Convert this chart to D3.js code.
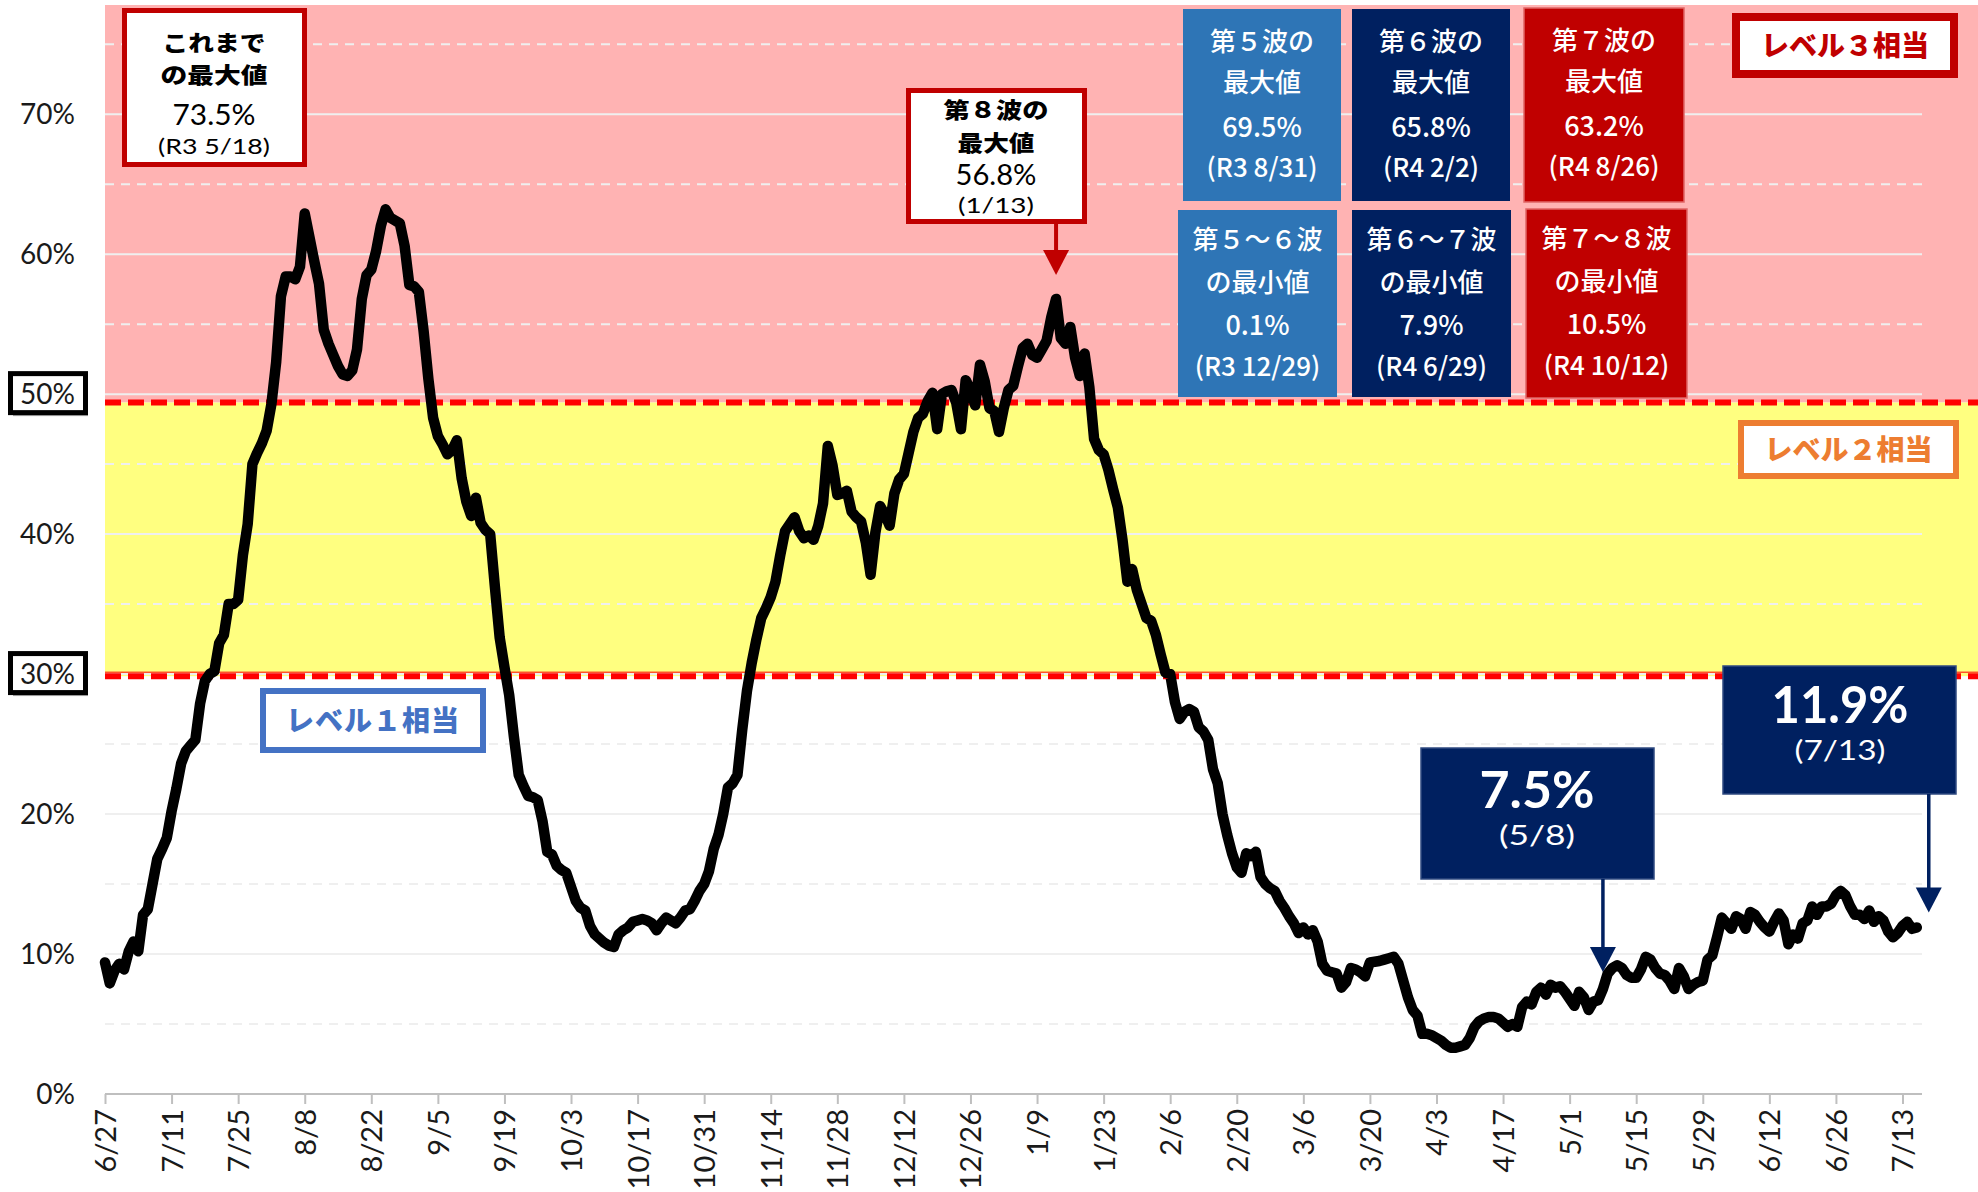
<!DOCTYPE html>
<html>
<head>
<meta charset="utf-8">
<script src="https://cdn.jsdelivr.net/npm/d3@7/dist/d3.min.js"></script>
<style>
  body { margin: 0; background: #fff; }
  svg { display: block; }
</style>
</head>
<body>
<svg id="chart"></svg>
<script>
// daily rate (%) starting 2022-06-27
const startDate = '2022-06-27'
const rates = [
  9.4, 7.9, 8.8, 9.3, 8.9, 10.2, 10.9, 10.2, 12.8, 13.2, 15.0, 16.8, 17.5, 18.3,
  20.2, 21.8, 23.6, 24.5, 24.9, 25.3, 27.9, 29.5, 30.0, 30.2, 32.2, 32.8, 35.0, 35.0,
  35.3, 38.5, 40.7, 45.0, 45.8, 46.5, 47.4, 49.3, 52.3, 57.0, 58.4, 58.4, 58.2, 59.1,
  62.9, 61.2, 59.5, 57.9, 54.6, 53.6, 52.8, 52.0, 51.4, 51.3, 51.7, 53.2, 56.8, 58.5,
  58.9, 60.2, 62.0, 63.2, 62.6, 62.4, 62.2, 60.6, 57.8, 57.7, 57.3, 54.5, 51.1, 48.3,
  47.0, 46.4, 45.7, 46.0, 46.7, 44.0, 42.3, 41.3, 42.6, 40.8, 40.3, 40.0, 36.2, 32.6,
  30.5, 28.5, 25.5, 22.8, 22.0, 21.3, 21.2, 21.0, 19.5, 17.3, 17.1, 16.3, 16.0, 15.8,
  14.8, 13.8, 13.3, 13.1, 12.0, 11.4, 11.1, 10.8, 10.6, 10.5, 11.4, 11.7, 11.9, 12.3,
  12.4, 12.5, 12.4, 12.2, 11.7, 12.2, 12.6, 12.4, 12.2, 12.6, 13.1, 13.2, 13.8, 14.5,
  15.0, 15.9, 17.5, 18.5, 20.0, 21.9, 22.2, 22.8, 26.0, 28.8, 30.8, 32.5, 34.0, 34.7,
  35.5, 36.6, 38.5, 40.2, 40.7, 41.2, 40.2, 39.7, 39.9, 39.6, 40.6, 42.2, 46.3, 44.9,
  42.8, 42.9, 43.1, 41.6, 41.2, 40.9, 39.4, 37.1, 40.1, 42.0, 41.4, 40.6, 42.9, 43.9,
  44.3, 45.8, 47.3, 48.3, 48.6, 49.5, 50.1, 47.5, 50.0, 50.2, 50.3, 49.4, 47.5, 51.0,
  50.3, 49.2, 52.1, 50.9, 49.0, 48.8, 47.3, 49.0, 50.3, 50.6, 52.0, 53.3, 53.6, 52.8,
  52.6, 53.2, 53.8, 55.5, 56.8, 54.0, 53.6, 54.8, 52.6, 51.3, 52.9, 50.5, 46.8, 46.0,
  45.7, 44.6, 43.2, 41.9, 39.5, 36.6, 37.5, 36.0, 35.0, 34.0, 33.8, 32.8, 31.4, 30.1,
  30.0, 28.0, 26.8, 27.3, 27.5, 27.3, 26.2, 25.9, 25.3, 23.2, 22.2, 20.0, 18.5, 17.2,
  16.2, 15.8, 17.2, 17.0, 17.3, 15.5, 15.0, 14.7, 14.5, 13.8, 13.3, 12.7, 12.2, 11.5,
  11.9, 11.4, 11.7, 10.9, 9.3, 8.8, 8.7, 8.6, 7.6, 8.0, 9.0, 8.9, 8.7, 8.4,
  9.4, 9.45, 9.5, 9.6, 9.7, 9.8, 9.3, 8.1, 6.9, 6.0, 5.6, 4.3, 4.3, 4.2,
  4.0, 3.8, 3.5, 3.3, 3.3, 3.4, 3.5, 4.0, 4.8, 5.2, 5.4, 5.5, 5.5, 5.4,
  5.1, 4.8, 5.0, 4.8, 6.2, 6.6, 6.4, 7.3, 7.6, 7.1, 7.8, 7.6, 7.7, 7.3,
  6.8, 6.3, 7.3, 6.9, 6.0, 6.6, 6.7, 7.5, 8.6, 9.0, 9.2, 9.0, 8.5, 8.3,
  8.3, 8.9, 9.8, 9.6, 9.0, 8.6, 8.5, 8.1, 7.5, 9.0, 8.4, 7.5, 7.8, 8.0,
  8.1, 9.6, 9.9, 11.2, 12.6, 12.2, 11.8, 12.7, 12.5, 11.8, 13.0, 12.8, 12.3, 11.9,
  11.6, 12.3, 12.9, 12.4, 10.7, 11.4, 11.1, 12.2, 12.4, 13.4, 12.8, 13.4, 13.4, 13.6,
  14.2, 14.5, 14.2, 13.4, 12.8, 12.8, 12.5, 13.1, 12.3, 12.7, 12.4, 11.6, 11.2, 11.5,
  12.0, 12.3, 11.8, 11.9
]

// x axis: a tick every 14 days, last label as printed on the chart
const tickLabels = ['6/27', '7/11', '7/25', '8/8', '8/22', '9/5', '9/19', '10/3', '10/17', '10/31',
  '11/14', '11/28', '12/12', '12/26', '1/9', '1/23', '2/6', '2/20', '3/6', '3/20', '4/3', '4/17',
  '5/1', '5/15', '5/29', '6/12', '6/26', '7/13']
const yMajor = [0, 10, 20, 30, 40, 50, 60, 70]
const yMinor = [5, 15, 25, 35, 45, 55, 65, 75]
const yBoxed = [30, 50]
const yMax = 77.8
const level3Min = 49.4
const level2Min = 29.85

// summary boxes (top right)
const waveTitles = ['第５波の', '第６波の', '第７波の', '第５～６波', '第６～７波', '第７～８波']
const waveSubtitles = ['最大値', '最大値', '最大値', 'の最小値', 'の最小値', 'の最小値']
const waveValues = ['69.5%', '65.8%', '63.2%', '0.1%', '7.9%', '10.5%']
const waveDates = ['(R3 8/31)', '(R4 2/2)', '(R4 8/26)', '(R3 12/29)', '(R4 6/29)', '(R4 10/12)']

// pointed annotations
const peakDate = '2023-01-13', peakValue = 56.8
const mayDate = '2023-05-08', mayValue = 7.5
const lastDate = '2023-07-13', lastValue = 11.9

const W = 1978, H = 1192
const plot = { left: 105, right: 1922, top: 5, bottom: 1094 }
const jp = "'Noto Sans CJK JP', 'Noto Sans', sans-serif"
const latin = "Lato, 'Open Sans', sans-serif"
const NAVY = '#002060', BLUE = '#2E75B6', RED = '#C00000'

const svg = d3.select('#chart').attr('width', W).attr('height', H)
svg.append('rect').attr('width', W).attr('height', H).attr('fill', '#fff')

const parse = d3.timeParse('%Y-%m-%d')
const t0 = parse(startDate)
const x = d3.scaleTime()
  .domain([t0, new Date(+t0 + 382.1 * 864e5)])
  .range([plot.left, plot.right])
const y = d3.scaleLinear().domain([0, yMax]).range([plot.bottom, plot.top])

const series = rates.map((v, i) => ({ date: d3.timeDay.offset(t0, i), value: v }))

// level bands
svg.append('rect')
  .attr('x', plot.left).attr('y', y(yMax))
  .attr('width', W - plot.left).attr('height', y(level3Min) - y(yMax))
  .attr('fill', '#FFB3B3')
svg.append('rect')
  .attr('x', plot.left).attr('y', y(level3Min))
  .attr('width', W - plot.left).attr('height', y(level2Min) - y(level3Min))
  .attr('fill', '#FFFF80')

// gridlines
const grid = svg.append('g')
grid.selectAll('line.major').data(yMajor.filter(v => v > 0)).join('line')
  .attr('x1', plot.left).attr('x2', plot.right)
  .attr('y1', d => y(d)).attr('y2', d => y(d))
  .attr('stroke', '#EFEFEF').attr('stroke-width', 2)
grid.selectAll('line.minor').data(yMinor).join('line')
  .attr('x1', plot.left).attr('x2', plot.right)
  .attr('y1', d => y(d)).attr('y2', d => y(d))
  .attr('stroke', '#EFEFEF').attr('stroke-width', 2).attr('stroke-dasharray', '9,7')

// red dashed level borders
svg.append('line')
  .attr('x1', plot.left).attr('x2', W).attr('y1', y(level2Min) - 4).attr('y2', y(level2Min) - 4)
  .attr('stroke', '#FF0000').attr('stroke-width', 1)
for (const lv of [level3Min, level2Min]) {
  svg.append('line')
    .attr('x1', plot.left).attr('x2', W).attr('y1', y(lv)).attr('y2', y(lv))
    .attr('stroke', '#FF0000').attr('stroke-width', 6).attr('stroke-dasharray', '16,7')
}

// x axis
const tickDates = tickLabels.map((_, i) => d3.timeDay.offset(t0, i * 14))
const xAxis = d3.axisBottom(x).tickValues(tickDates).tickSize(10).tickSizeOuter(0)
  .tickFormat((d, i) => tickLabels[i])
const gx = svg.append('g').attr('transform', `translate(0,${plot.bottom})`).call(xAxis)
gx.select('.domain').attr('stroke', '#BFBFBF').attr('stroke-width', 2)
  .attr('d', `M${plot.left},0H${plot.right}`)
gx.selectAll('.tick line').attr('stroke', '#BFBFBF').attr('stroke-width', 2)
gx.selectAll('.tick text')
  .attr('font-family', latin).attr('font-size', 29).attr('fill', '#1a1a1a')
  .attr('text-anchor', 'end')
  .attr('transform', 'rotate(-90)')
  .attr('x', -15).attr('y', 0).attr('dy', '0.36em')

// y labels
const gy = svg.append('g')
yMajor.forEach(v => {
  if (yBoxed.includes(v)) {
    gy.append('rect').attr('x', 13).attr('y', y(v) - 18).attr('width', 75).attr('height', 40)
      .attr('fill', '#A6A6A6')
    gy.append('rect').attr('x', 10.5).attr('y', y(v) - 20.5).attr('width', 75).attr('height', 39)
      .attr('fill', '#fff').attr('stroke', '#000').attr('stroke-width', 5)
  }
  gy.append('text').attr('x', 75).attr('y', y(v)).attr('dy', '0.36em')
    .attr('text-anchor', 'end').attr('font-family', latin).attr('font-size', 28)
    .attr('fill', '#1a1a1a').text(v + '%')
})

// data line
svg.append('path').datum(series)
  .attr('fill', 'none').attr('stroke', '#000').attr('stroke-width', 10.5)
  .attr('stroke-linejoin', 'round').attr('stroke-linecap', 'round')
  .attr('d', d3.line().x(d => x(d.date)).y(d => y(d.value)))

// helpers
function label(g, str, cx, cy, size, o = {}) {
  const t = g.append('text').attr('x', cx).attr('y', cy).attr('dy', '0.36em')
    .attr('text-anchor', 'middle').attr('font-family', o.font || jp)
    .attr('font-size', size).attr('font-weight', o.weight || 400)
    .attr('fill', o.fill || '#000').text(str)
  if (o.len) t.attr('textLength', o.len).attr('lengthAdjust', 'spacingAndGlyphs')
  if (o.ls) t.attr('letter-spacing', o.ls)
  return t
}
function downArrow(g, cx, yFrom, yTip, color, w) {
  g.append('line').attr('x1', cx).attr('x2', cx).attr('y1', yFrom).attr('y2', yTip - 20)
    .attr('stroke', color).attr('stroke-width', w)
  g.append('path')
    .attr('d', `M${cx - 13},${yTip - 25}L${cx + 13},${yTip - 25}L${cx},${yTip}Z`)
    .attr('fill', color)
}

const ann = svg.append('g')

// all-time max box
ann.append('rect').attr('x', 124.5).attr('y', 10.5).attr('width', 180).attr('height', 154)
  .attr('fill', '#fff').attr('stroke', RED).attr('stroke-width', 5)
label(ann, 'これまで', 214, 43, 22, { weight: 900, len: 103 })
label(ann, 'の最大値', 214, 75.5, 22, { weight: 900, len: 107 })
label(ann, '73.5%', 214, 115, 28, { font: latin, len: 83 })
label(ann, '(R3 5/18)', 214, 146, 22, { font: latin, len: 112 })

// 8th wave max box + arrow
ann.append('rect').attr('x', 908.5).attr('y', 90.5).attr('width', 176).attr('height', 131)
  .attr('fill', '#fff').attr('stroke', RED).attr('stroke-width', 5)
label(ann, '第８波の', 996, 110, 22, { weight: 900, len: 105 })
label(ann, '最大値', 996, 143, 22, { weight: 900, len: 77 })
label(ann, '56.8%', 996, 175, 28, { font: latin, len: 81 })
label(ann, '(1/13)', 996, 205.5, 22, { font: latin, len: 76 })
downArrow(ann, x(parse(peakDate)), 224, y(peakValue) - 24, RED, 4)

// wave summary boxes
const waveBoxes = [
  { x: 1183, y: 9, w: 158, h: 192 }, { x: 1352, y: 9, w: 158, h: 192 }, { x: 1524, y: 8, w: 160, h: 194 },
  { x: 1178, y: 210, w: 159, h: 187 }, { x: 1352, y: 210, w: 159, h: 187 }, { x: 1526, y: 209, w: 161, h: 189 }
]
const waveFill = [BLUE, NAVY, RED, BLUE, NAVY, RED]
waveBoxes.forEach((b, i) => {
  const g = ann.append('g')
  g.append('rect').attr('x', b.x).attr('y', b.y).attr('width', b.w).attr('height', b.h)
    .attr('fill', waveFill[i])
    .attr('stroke', waveFill[i] === RED ? '#E06666' : 'none').attr('stroke-width', 1.5)
  const cx = b.x + b.w / 2
  const offs = i < 3 ? [33, 74, 118, 159] : [30, 73, 115, 157]
  label(g, waveTitles[i], cx, b.y + offs[0], 26, { fill: '#fff', weight: 500 })
  label(g, waveSubtitles[i], cx, b.y + offs[1], 26, { fill: '#fff', weight: 500 })
  label(g, waveValues[i], cx, b.y + offs[2], 27, { fill: '#fff', weight: 500 })
  label(g, waveDates[i], cx, b.y + offs[3], 26, { fill: '#fff', weight: 500 })
})

// level labels
function levelBox(bx, by, bw, bh, sw, color, text, ls) {
  ann.append('rect').attr('x', bx).attr('y', by).attr('width', bw).attr('height', bh)
    .attr('fill', '#fff').attr('stroke', color).attr('stroke-width', sw)
  label(ann, text, bx + bw / 2, by + bh / 2, 28, { fill: color, weight: 900, ls: ls || 0 })
}
levelBox(1736, 17, 218, 57, 8, RED, 'レベル３相当')
levelBox(1741, 423, 215, 53, 6, '#ED7D31', 'レベル２相当')
levelBox(263, 691, 220, 59, 6, '#4472C4', 'レベル１相当', 1)

// 5/8 callout
ann.append('rect').attr('x', 1421).attr('y', 748).attr('width', 233).attr('height', 131)
  .attr('fill', NAVY).attr('stroke', '#2F4A80').attr('stroke-width', 1.5)
label(ann, '7.5%', 1537, 789, 52, { font: latin, fill: '#fff', weight: 700, len: 115 })
label(ann, '(5/8)', 1537, 836, 26, { font: latin, fill: '#fff', weight: 400, len: 76 })
downArrow(ann, x(parse(mayDate)), 879, y(mayValue) - 17, NAVY, 3.5)

// latest value callout
ann.append('rect').attr('x', 1723).attr('y', 666).attr('width', 233).attr('height', 128)
  .attr('fill', NAVY).attr('stroke', '#2F4A80').attr('stroke-width', 1.5)
label(ann, '11.9%', 1840, 704, 52, { font: latin, fill: '#fff', weight: 700, len: 137 })
label(ann, '(7/13)', 1840, 751, 26, { font: latin, fill: '#fff', weight: 400, len: 91 })
downArrow(ann, x(parse(lastDate)) + 12, 794, y(lastValue) - 15, NAVY, 3.5)
</script>
</body>
</html>
